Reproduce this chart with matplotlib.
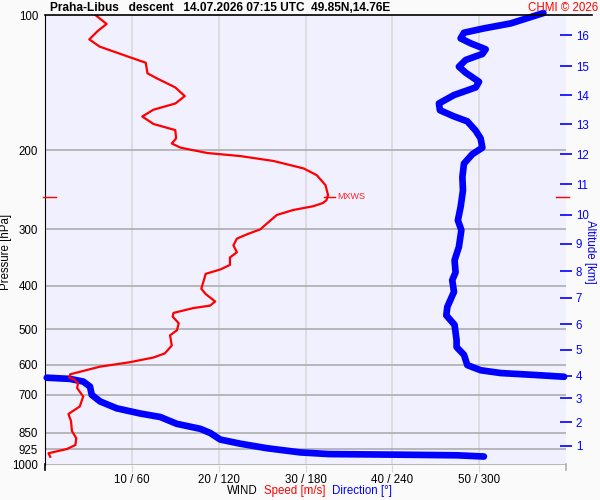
import numpy as np
import matplotlib
matplotlib.use("Agg")
import matplotlib.pyplot as plt
from matplotlib.lines import Line2D

plt.rcParams["font.family"] = ["Liberation Sans", "DejaVu Sans"]

# ---- data read off the sounding ----
# wind speed profile [m/s] vs pressure [hPa]
speed_p = [100, 104.7, 108.4, 113.3, 117.6, 124.2, 127.7, 134.8, 138.4, 144.9,
           151.5, 157.4, 162.4, 168.2, 174.8, 180.3, 188.1, 193.1, 197.3, 202.8,
           206.0, 211.2, 219.5, 227.2, 239.1, 251.7, 258.4, 262, 266.3, 271.5,
           278.5, 290.5, 299.8, 307.3, 314.4, 325.5, 337.2, 346.2, 359.7, 368.2,
           376.6, 388.7, 406.3, 417.6, 433.9, 443.2, 448.7, 460, 468.8, 485,
           502.6, 516, 543.7, 566, 578, 592, 606, 630, 641, 646,
           659, 676, 706, 743, 772, 801, 842, 874, 905, 924,
           944, 961]
speed = [5.8, 7.1, 6.1, 5.1, 6.3, 9.8, 11.6, 11.8, 12.9, 15.0,
         16.1, 15.0, 12.5, 11.2, 12.5, 15.0, 15.1, 14.6, 15.6, 18.7,
         22.5, 26.3, 29.8, 31.3, 32.3, 32.6, 32.4, 32.0, 30.9, 28.6,
         26.7, 25.6, 24.8, 23.3, 22.1, 21.7, 22.1, 21.3, 21.3, 20.2,
         18.5, 18.3, 18.0, 18.5, 19.6, 19.0, 17.1, 14.8, 14.7, 15.4,
         15.2, 14.4, 14.6, 13.8, 12.5, 9.8, 6.3, 2.9, 2.8, 3.3,
         3.8, 3.7, 4.4, 4.0, 2.7, 3.0, 3.1, 3.6, 3.5, 2.5,
         0.4, 0.6]

# wind direction [deg] vs pressure [hPa]
dir_p = [99, 104.4, 107.1, 109.5, 112.7, 115.6, 119.2, 122.1, 125.9, 130.3,
         134.4, 140.8, 144.9, 150.7, 157.3, 162.9, 168.1, 172.4, 180.9, 188.1,
         197.3, 204.0, 214.1, 229.3, 245.7, 267.1, 286.3, 301, 328, 351.1,
         373.7, 389, 413, 446, 465.8, 489, 529, 548, 570, 601,
         617, 626, 632, 638,
         641, 645, 654, 671, 700, 724, 750, 770, 784, 812,
         833, 851, 880, 899, 920, 940, 948, 951, 954, 960]
direction = [344.4, 321.8, 303.3, 289.5, 287.2, 294.1, 304.5, 302.2, 290.7, 286.0,
             290.7, 299.9, 297.6, 282.6, 272.2, 272.9, 282.6, 291.8, 297.6, 301.0,
             302.2, 295.3, 289.5, 288.4, 288.8, 287.2, 285.3, 287.7, 286.0, 283.0,
             283.7, 281.4, 282.6, 278.0, 277.3, 283.0, 284.4, 284.4, 289.5, 291.8,
             301.0, 314.9, 338.0, 358.7,
             1.2, 17.3, 26.5, 31.1, 32.3, 38.1, 49.6, 65.7, 79.6, 91.1,
             107.3, 114.2, 121.1, 135.0, 153.4, 176.5, 196.1, 245.7, 284.9, 303.3]

# altitude scale [km] and the pressure where each level is reached
alt_km = list(range(1, 17))
alt_p = [908, 805, 712, 635, 556, 488, 426, 372, 323, 278,
         238, 204, 175, 151, 130, 111]

p_ticks = [100, 200, 300, 400, 500, 600, 700, 850, 925, 1000]
x_ticks = [10, 20, 30, 40, 50]
x_labels = ["10 / 60", "20 / 120", "30 / 180", "40 / 240", "50 / 300"]
mxws_p = 254
mxws_speed = 32.6

# ---- figure ----
fig = plt.figure(figsize=(6, 5), dpi=100, facecolor="#fafafa")
ax = fig.add_axes([45 / 600, 1 - 464.5 / 500, 521 / 600, 449.5 / 500])
ax.set_facecolor("#f0f0ff")
ax.set_yscale("log")
ax.set_ylim(1000, 100)
ax.set_xlim(0, 60)

# grid
for p in p_ticks[1:]:
    ax.axhline(p, color="#a8a8a8", lw=1.1, zorder=1)
for x in x_ticks:
    ax.axvline(x, color="#d8d8d8", lw=1.1, zorder=0.5)

ax.set_yticks(p_ticks)
ax.set_yticklabels([str(p) for p in p_ticks])
ax.yaxis.set_minor_locator(plt.NullLocator())
ax.tick_params(axis="y", length=0, pad=5, labelsize=8.3)
ax.set_xticks(x_ticks)
ax.set_xticklabels(x_labels)
ax.tick_params(axis="x", length=5, color="#d8d8d8", pad=1.5, labelsize=8.3)
ax.set_ylabel("Pressure [hPa]", fontsize=8.3)
ax.yaxis.set_label_coords(-0.063, 0.473)

for s in ["right", "bottom", "top"]:
    ax.spines[s].set_visible(False)
ax.spines["left"].set_color("black")
# top line runs past the plot area, left spine a bit below it
fig.add_artist(Line2D([45 / 600, 592 / 600], [1 - 15 / 500] * 2, color="black", lw=1.2))
fig.add_artist(Line2D([45 / 600] * 2, [1 - 464 / 500, 1 - 470 / 500], color="black", lw=1.2))
fig.add_artist(Line2D([566 / 600] * 2, [1 - 464 / 500, 1 - 470 / 500], color="#a8a8a8", lw=1.1))

# wind direction, split where it wraps past north
d = np.array(direction)
dp = np.array(dir_p)
cut = np.where(np.abs(np.diff(d)) > 180)[0] + 1
for seg_d, seg_p in zip(np.split(d, cut), np.split(dp, cut)):
    ax.plot(seg_d / 6.0, seg_p, color="#0000ff", lw=4.8, solid_capstyle="round",
            solid_joinstyle="round", zorder=3, clip_on=False)

# wind speed
ax.plot(speed, speed_p, color="#ff0000", lw=1.6, zorder=4)

# maximum wind marks
ax.plot([-0.2, 1.3], [mxws_p] * 2, color="#ff0000", lw=1, clip_on=False, zorder=5)
ax.plot([mxws_speed - 0.5, mxws_speed + 0.8], [mxws_p] * 2, color="#ff0000", lw=1, zorder=5)
ax.plot([58.8, 60.3], [mxws_p] * 2, color="#ff0000", lw=1, clip_on=False, zorder=5)
ax.text(mxws_speed + 1.1, mxws_p, "MXWS", color="#ff2020", fontsize=6.5,
        va="center", ha="left", zorder=5)

# altitude axis
ax2 = ax.twinx()
ax2.set_yscale("log")
ax2.set_ylim(1000, 100)
ax2.set_yticks(alt_p)
ax2.set_yticklabels([str(k) for k in alt_km])
ax2.yaxis.set_minor_locator(plt.NullLocator())
ax2.tick_params(axis="y", colors="#0000ff", direction="inout", length=8, width=1.2,
                labelsize=8.3, pad=3)
for s in ax2.spines.values():
    s.set_visible(False)
ax2.set_ylabel("Altitude [km]", color="#0000ff", fontsize=8.3, rotation=-90)
ax2.yaxis.set_label_coords(1.057, 0.473)

# titles and footer
fig.text(50 / 600, 1 - 8 / 500, "Praha-Libus   descent   14.07.2026 07:15 UTC  49.85N,14.76E",
         fontsize=8.6, fontweight="bold", va="center", ha="left")
fig.text(598 / 600, 1 - 8 / 500, "CHMI © 2026", color="#ff0000", fontsize=8.3,
         va="center", ha="right")
fig.text(227 / 600, 1 - 491 / 500, "WIND", fontsize=8.3, va="center")
fig.text(264 / 600, 1 - 491 / 500, "Speed [m/s]", color="#ff0000", fontsize=8.3, va="center")
fig.text(332 / 600, 1 - 491 / 500, "Direction [°]", color="#0000ff", fontsize=8.3, va="center")

fig.savefig("out.png", dpi=100, facecolor=fig.get_facecolor())
